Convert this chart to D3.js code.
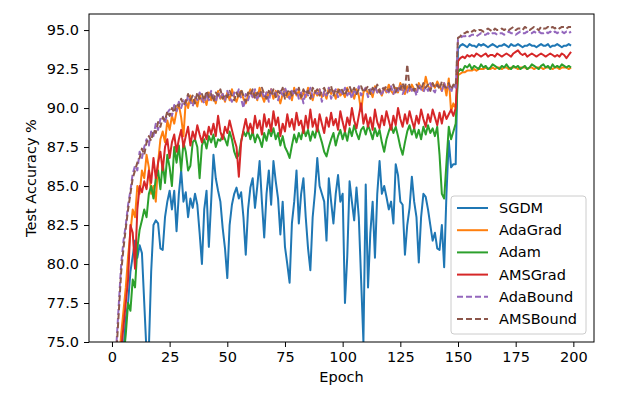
<!DOCTYPE html>
<html>
<head>
<meta charset="utf-8">
<script src="https://cdn.jsdelivr.net/npm/d3@7"></script>
<style>
  body { margin: 0; background: #fff; }
  text { font-family: "DejaVu Sans", sans-serif; fill: #000; }
</style>
</head>
<body>
<div class="canvas"></div>
<script>
// test accuracy per epoch (0..199)
const sgdm = [
  45.0, 60.0, 66.0, 70.0, 73.0, 74.5, 76.5, 77.5, 79.5, 80.5,
  81.5, 80.4, 81.2, 80.7, 77.5, 74.3, 74.6, 79.5, 82.5, 82.8,
  82.6, 81.0, 80.9, 83.0, 84.0, 84.7, 83.5, 84.7, 82.1, 84.5,
  86.0, 84.0, 84.6, 83.0, 84.2, 83.6, 84.5, 83.8, 82.0, 80.0,
  83.5, 84.7, 81.1, 84.0, 87.0, 85.5, 84.7, 84.0, 82.3, 81.0,
  79.1, 82.5, 83.8, 84.5, 84.9, 84.2, 84.6, 83.0, 80.6, 83.5,
  84.9, 85.5, 83.6, 85.0, 86.6, 84.0, 81.7, 84.5, 86.0, 83.8,
  86.6, 85.3, 84.2, 81.9, 84.0, 81.1, 80.0, 78.8, 82.6, 84.0,
  86.0, 82.6, 84.5, 85.5, 83.0, 81.0, 79.6, 83.0, 84.6, 86.8,
  85.0, 84.5, 84.0, 81.5, 85.5, 84.0, 82.6, 84.5, 85.7, 84.0,
  84.5, 77.5, 80.5, 85.3, 84.0, 82.8, 84.9, 83.0, 79.0, 75.0,
  85.1, 78.5, 82.0, 84.0, 80.4, 84.5, 86.6, 84.5, 85.0, 84.3,
  83.5, 84.0, 82.6, 86.4, 85.7, 84.0, 83.8, 80.6, 82.5, 83.6,
  85.6, 84.0, 83.0, 80.1, 83.0, 84.5, 84.3, 83.5, 82.5, 81.5,
  82.0, 81.0, 80.9, 82.5, 79.8, 84.5, 87.9, 86.2, 86.4, 86.4,
  93.8, 94.0, 94.1, 94.0, 93.9, 94.1, 94.0, 94.0, 93.9, 94.1,
  94.0, 94.1, 94.0, 93.9, 94.0, 94.1, 94.0, 93.9, 94.0, 94.0,
  94.1, 94.0, 93.9, 94.1, 94.0, 94.0, 94.1, 94.0, 93.9, 94.0,
  94.0, 94.1, 94.0, 94.0, 93.9, 94.0, 94.1, 94.0, 94.0, 94.1,
  93.9, 94.0, 94.0, 94.1, 94.0, 93.9, 94.0, 94.0, 94.1, 94.0
];
const adagrad = [
  55.0, 66.0, 71.0, 73.5, 75.5, 77.0, 78.5, 80.5, 82.0, 83.5,
  83.0, 85.0, 84.5, 86.0, 85.5, 87.0, 86.2, 84.5, 85.0, 84.0,
  86.5, 88.0, 88.5, 87.8, 89.2, 88.6, 89.5, 89.0, 89.8, 90.2,
  89.4, 88.2, 90.5, 90.0, 90.8, 90.3, 90.6, 90.1, 90.9, 90.4,
  90.7, 90.2, 91.0, 90.5, 90.8, 90.3, 91.1, 90.6, 90.9, 90.4,
  91.0, 90.5, 91.2, 90.7, 90.4, 90.9, 91.1, 90.6, 90.3, 90.8,
  91.2, 90.7, 91.0, 90.5, 91.3, 90.8, 90.4, 91.0, 90.7, 91.2,
  90.6, 91.1, 90.8, 90.3, 90.9, 91.2, 90.7, 91.0, 90.5, 91.3,
  90.8, 91.1, 90.6, 91.0, 90.7, 91.3, 90.9, 90.5, 91.1, 90.8,
  91.2, 90.7, 91.0, 90.6, 91.3, 90.9, 91.1, 90.6, 91.2, 90.8,
  91.0, 90.7, 91.3, 90.9, 91.1, 90.6, 91.2, 90.8, 89.8, 91.0,
  91.3, 90.9, 91.1, 90.7, 91.4, 91.0, 91.2, 90.8, 91.3, 91.0,
  91.5, 91.1, 90.9, 91.3, 91.0, 91.6, 91.2, 90.9, 91.4, 91.1,
  91.5, 91.2, 91.0, 91.6, 91.3, 91.1, 92.0, 91.4, 91.2, 91.6,
  91.3, 91.7, 91.4, 91.1, 91.6, 90.8, 91.9, 89.8, 90.3, 90.0,
  92.1, 92.2, 92.3, 92.3, 92.4, 92.4, 92.4, 92.5, 92.4, 92.5,
  92.5, 92.5, 92.6, 92.5, 92.5, 92.6, 92.5, 92.6, 92.6, 92.5,
  92.6, 92.6, 92.5, 92.6, 92.6, 92.6, 92.5, 92.6, 92.6, 92.6,
  92.5, 92.6, 92.6, 92.5, 92.6, 92.6, 92.6, 92.5, 92.6, 92.6,
  92.6, 92.5, 92.6, 92.6, 92.5, 92.6, 92.6, 92.6, 92.5, 92.6
];
const adam = [
  48.0, 60.0, 66.0, 70.0, 72.5, 74.0, 75.5, 77.5, 77.0, 79.0,
  78.5, 81.0, 82.2, 82.8, 83.5, 83.0, 84.5, 85.0, 84.2, 85.5,
  86.0, 84.8, 86.5, 85.2, 87.0, 86.2, 85.0, 87.5, 86.5, 87.6,
  86.0, 87.8, 87.2, 86.0, 86.3, 87.8, 88.0, 87.5, 85.5, 87.6,
  88.0, 87.4, 88.2, 87.8, 88.3, 87.5, 88.0, 87.9, 88.3, 88.0,
  87.6, 88.5, 88.0, 87.2, 86.8, 87.0, 87.9, 88.5, 88.2, 88.6,
  88.0, 88.5, 87.8, 88.3, 88.0, 87.5, 88.4, 87.9, 88.6, 88.2,
  88.7, 88.0, 88.4, 87.6, 88.2, 87.5, 87.2, 86.8, 87.6, 88.3,
  87.8, 88.4, 88.0, 88.7, 88.2, 88.6, 87.9, 88.5, 88.1, 88.8,
  88.3, 87.8, 87.2, 86.9, 87.5, 88.0, 88.4, 87.6, 88.2, 88.6,
  88.0, 88.5, 87.9, 88.7, 88.2, 88.9, 88.4, 88.0, 88.6, 88.8,
  88.3, 88.9, 88.5, 88.0, 88.7, 88.2, 88.6, 87.8, 87.2, 88.0,
  88.5, 88.9, 88.4, 88.8, 88.2, 87.5, 87.0, 87.8, 88.5, 88.9,
  88.3, 88.7, 88.1, 88.6, 88.0, 88.8, 88.3, 88.9, 88.4, 88.7,
  88.2, 88.8, 87.0, 84.5, 84.2, 86.5, 88.8, 88.0, 88.5, 89.0,
  92.3, 92.5, 92.4, 92.7, 92.6, 92.8, 92.5, 92.7, 92.6, 92.5,
  92.8, 92.6, 92.7, 92.5, 92.6, 92.8, 92.7, 92.6, 92.5, 92.7,
  92.6, 92.8, 92.6, 92.5, 92.7, 92.6, 92.7, 92.5, 92.6, 92.7,
  92.5, 92.6, 92.8, 92.7, 92.6, 92.5, 92.7, 92.8, 92.6, 92.7,
  92.5, 92.8, 92.6, 92.7, 92.6, 92.8, 92.7, 92.6, 92.7, 92.6
];
const amsgrad = [
  50.0, 62.0, 68.0, 72.0, 74.5, 76.0, 77.5, 79.0, 82.5, 82.0,
  79.7, 83.5, 85.0, 84.6, 85.3, 84.8, 86.0, 85.2, 86.8, 85.5,
  86.5, 87.2, 86.0, 87.5, 88.0, 86.8, 87.8, 88.3, 87.2, 88.0,
  88.6, 87.5, 88.2, 88.8, 87.6, 88.5, 88.0, 88.9, 88.3, 87.8,
  88.5, 88.0, 88.8, 88.3, 89.0, 88.2, 89.5, 88.5, 88.0, 88.8,
  88.4, 89.2, 88.6, 88.0, 87.5, 85.6, 87.8, 88.6, 89.3, 88.5,
  89.0, 88.4, 89.5, 88.7, 89.2, 88.3, 89.6, 88.8, 89.3, 88.5,
  89.8, 88.9, 89.4, 88.2, 89.0, 88.5, 89.6, 88.8, 89.3, 88.6,
  89.7, 88.9, 89.2, 88.4, 89.5, 88.7, 89.9, 88.8, 89.3, 88.5,
  89.6, 89.0, 88.4, 89.4, 88.8, 89.7, 88.9, 89.3, 88.6, 89.8,
  89.1, 88.5, 89.4, 88.9, 90.0, 89.2, 88.7, 89.5, 90.3, 89.0,
  89.6, 88.8, 89.4, 88.6, 89.9, 89.1, 88.7, 89.5, 88.9, 89.8,
  89.2, 88.6, 89.5, 88.9, 90.0, 89.3, 88.8, 89.6, 89.0, 89.8,
  89.2, 88.7, 89.5, 89.0, 89.9, 89.3, 88.8, 89.6, 89.1, 89.9,
  89.4, 88.9, 89.7, 89.0, 89.8, 89.3, 89.6, 89.9, 89.5, 90.0,
  93.0, 93.2, 93.3, 93.2, 93.4, 93.3, 93.4, 93.3, 93.5, 93.4,
  93.3, 93.4, 93.5, 93.3, 93.4, 93.4, 93.3, 93.5, 93.4, 93.3,
  93.4, 93.5, 93.4, 93.3, 93.5, 93.6, 93.7, 93.5, 93.4, 93.5,
  93.3, 93.4, 93.5, 93.4, 93.3, 93.4, 93.5, 93.4, 93.3, 93.4,
  93.5, 93.4, 93.3, 93.4, 93.3, 93.5, 93.4, 93.2, 93.4, 93.6
];
const adabound = [
  60.0, 70.0, 75.0, 77.5, 80.0, 81.5, 82.5, 83.8, 84.7, 85.8,
  86.3, 86.0, 87.2, 86.8, 87.5, 88.0, 87.6, 88.5, 88.2, 89.0,
  88.6, 89.3, 89.5, 89.0, 89.7, 89.9, 89.5, 90.2, 89.8, 90.4,
  90.0, 90.5, 90.2, 90.8, 90.4, 90.1, 90.7, 90.5, 91.0, 90.6,
  90.3, 90.9, 90.5, 91.1, 90.7, 90.4, 91.0, 90.6, 90.9, 90.5,
  91.1, 90.7, 90.4, 91.0, 90.8, 91.2, 90.6, 90.0, 90.9, 90.5,
  91.0, 90.7, 91.2, 90.5, 90.9, 91.1, 90.6, 91.0, 90.4, 91.2,
  90.8, 91.0, 90.5, 91.1, 90.7, 91.3, 90.9, 90.6, 91.1, 90.8,
  91.2, 90.6, 91.0, 90.3, 91.1, 90.8, 91.3, 90.7, 91.0, 90.9,
  91.2, 90.4, 91.1, 90.8, 91.3, 90.6, 91.0, 91.2, 90.7, 91.1,
  90.9, 91.3, 90.8, 91.1, 90.6, 91.2, 90.9, 91.4, 90.8, 91.1,
  91.3, 90.7, 91.2, 90.9, 91.4, 91.0, 91.2, 90.8, 91.3, 91.1,
  91.0, 91.4, 90.9, 91.3, 91.1, 91.5, 90.9, 91.2, 91.0, 91.4,
  91.1, 91.3, 90.8, 91.5, 91.2, 91.0, 91.4, 91.1, 91.6, 91.2,
  91.0, 91.5, 91.3, 91.1, 91.6, 91.2, 91.4, 91.0, 91.5, 91.3,
  94.4, 94.5, 94.6, 94.6, 94.7, 94.6, 94.7, 94.7, 94.6, 94.7,
  94.8, 94.7, 94.7, 94.8, 94.7, 94.8, 94.8, 94.7, 94.8, 94.8,
  94.7, 94.8, 94.9, 94.8, 94.8, 94.7, 94.8, 94.9, 94.8, 94.8,
  94.9, 94.8, 94.8, 94.9, 94.8, 94.9, 94.8, 94.8, 94.9, 94.8,
  94.9, 94.8, 94.9, 94.8, 94.9, 94.9, 94.8, 94.9, 94.8, 94.9
];
const amsbound = [
  58.0, 69.0, 74.5, 77.0, 79.5, 81.0, 82.3, 83.5, 84.5, 85.5,
  86.0, 86.5, 86.8, 87.4, 87.0, 87.8, 88.2, 87.9, 88.6, 88.4,
  89.1, 88.8, 89.4, 89.2, 89.8, 89.5, 90.0, 89.7, 90.3, 90.1,
  90.6, 90.2, 90.4, 90.9, 90.5, 90.8, 90.3, 91.0, 90.6, 90.9,
  90.5, 91.1, 90.7, 90.9, 90.4, 91.0, 90.8, 91.2, 90.6, 90.9,
  90.7, 91.1, 90.8, 90.5, 91.0, 90.6, 91.2, 90.8, 90.4, 91.0,
  90.8, 91.2, 90.6, 91.0, 90.7, 91.3, 90.9, 90.6, 91.1, 90.8,
  91.2, 90.7, 91.1, 90.9, 91.3, 90.6, 91.0, 91.2, 90.8, 91.1,
  90.9, 91.3, 90.7, 91.2, 90.9, 91.1, 90.6, 91.3, 91.0, 91.2,
  90.8, 91.1, 91.3, 90.9, 91.0, 91.4, 90.8, 91.2, 91.0, 91.3,
  91.1, 90.8, 91.2, 91.4, 91.0, 91.3, 90.9, 91.2, 91.4, 91.0,
  91.2, 91.4, 90.9, 91.3, 91.1, 91.5, 91.0, 91.3, 91.2, 91.4,
  91.1, 91.3, 91.5, 91.0, 91.4, 91.2, 91.6, 91.1, 92.8, 91.3,
  91.4, 91.1, 91.5, 91.3, 91.2, 91.6, 91.3, 91.5, 91.1, 91.6,
  91.3, 91.5, 91.2, 91.7, 91.4, 91.3, 91.6, 91.2, 91.5, 91.4,
  94.5, 94.6, 94.8, 94.8, 94.9, 94.8, 94.9, 95.0, 94.9, 95.0,
  95.0, 94.9, 95.0, 95.1, 95.0, 94.9, 95.1, 95.0, 95.0, 95.1,
  95.0, 95.1, 95.0, 95.1, 95.2, 95.0, 95.1, 95.1, 95.0, 95.2,
  95.1, 95.0, 95.1, 95.2, 95.1, 95.0, 95.2, 95.1, 95.1, 95.2,
  95.1, 95.2, 95.1, 95.2, 95.1, 95.2, 95.2, 95.1, 95.2, 95.2
];

const names = ['SGDM', 'AdaGrad', 'Adam', 'AMSGrad', 'AdaBound', 'AMSBound'];
const colours = ['#1f77b4', '#ff7f0e', '#2ca02c', '#d62728', '#9467bd', '#8c564b'];
const dashed = [false, false, false, false, true, true];
const xTicks = [0, 25, 50, 75, 100, 125, 150, 175, 200];
const yTicks = [75, 77.5, 80, 82.5, 85, 87.5, 90, 92.5, 95];

const series = [sgdm, adagrad, adam, amsgrad, adabound, amsbound];

const W = 617, H = 398;
const plotL = 89, plotR = 594, plotT = 14, plotB = 342;

const svg = d3.select('.canvas')
    .append('svg')
    .attr('width', W)
    .attr('height', H)
    .attr('style', 'background:#fff');

const x = d3.scaleLinear().domain([-9.95, 208.95]).range([plotL, plotR]);
const y = d3.scaleLinear().domain([75, 96.03]).range([plotB, plotT]);

svg.append('clipPath').attr('id', 'plot')
    .append('rect')
    .attr('x', plotL).attr('y', plotT)
    .attr('width', plotR - plotL).attr('height', plotB - plotT);

const line = d3.line()
    .x((d, i) => x(i))
    .y(d => y(d));

const graph = svg.append('g').attr('clip-path', 'url(#plot)');

series.forEach((s, k) => {
    graph.append('path')
        .datum(s)
        .attr('fill', 'none')
        .attr('stroke', colours[k])
        .attr('stroke-width', 2)
        .attr('stroke-linejoin', 'round')
        .attr('stroke-dasharray', dashed[k] ? '6,3' : null)
        .attr('d', line);
});

// axes
const xAxis = svg.append('g')
    .attr('transform', `translate(0,${plotB})`)
    .call(d3.axisBottom(x).tickValues(xTicks).tickSize(5).tickPadding(5).tickFormat(d3.format('d')));
const yAxis = svg.append('g')
    .attr('transform', `translate(${plotL},0)`)
    .call(d3.axisLeft(y).tickValues(yTicks).tickSize(5).tickPadding(5).tickFormat(d3.format('.1f')));

[xAxis, yAxis].forEach(a => {
    a.select('.domain').remove();
    a.selectAll('.tick line').attr('stroke', '#000').attr('stroke-width', 1);
    a.selectAll('.tick text').attr('font-size', '14.5px').attr('font-family', 'DejaVu Sans');
});

// frame
svg.append('rect')
    .attr('x', plotL).attr('y', plotT)
    .attr('width', plotR - plotL).attr('height', plotB - plotT)
    .attr('fill', 'none')
    .attr('stroke', '#000')
    .attr('stroke-width', 1);

svg.append('text')
    .attr('x', (plotL + plotR) / 2)
    .attr('y', 382)
    .attr('text-anchor', 'middle')
    .attr('font-size', '14.5px')
    .text('Epoch');

svg.append('text')
    .attr('transform', `translate(36,${(plotT + plotB) / 2}) rotate(-90)`)
    .attr('text-anchor', 'middle')
    .attr('font-size', '14.5px')
    .text('Test Accuracy %');

// legend
const legend = svg.append('g');
legend.append('rect')
    .attr('x', 451).attr('y', 196)
    .attr('width', 135).attr('height', 138)
    .attr('rx', 3)
    .attr('fill', '#fff').attr('fill-opacity', 0.8)
    .attr('stroke', '#ccc');

names.forEach((n, k) => {
    const ly = 208 + k * 22.2;
    legend.append('line')
        .attr('x1', 457).attr('x2', 488)
        .attr('y1', ly).attr('y2', ly)
        .attr('stroke', colours[k])
        .attr('stroke-width', 2)
        .attr('stroke-dasharray', dashed[k] ? '6,3' : null);
    legend.append('text')
        .attr('x', 499).attr('y', ly + 5)
        .attr('font-size', '14.5px')
        .text(n);
});
</script>
</body>
</html>
